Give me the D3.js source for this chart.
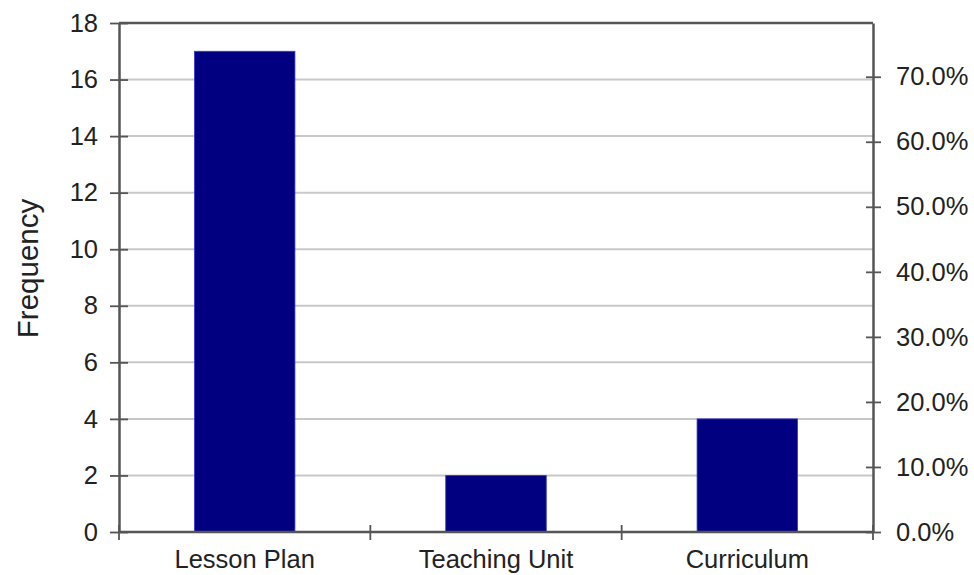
<!DOCTYPE html>
<html>
<head>
<meta charset="utf-8">
<script src="https://cdn.jsdelivr.net/npm/d3@7"></script>
<style>
  html, body { margin: 0; padding: 0; background: #fff; }
  svg { display: block; }
  text { font-family: "Liberation Sans", Arial, sans-serif; fill: #222; }
</style>
</head>
<body>
<svg id="chart" width="974" height="575"></svg>
<script>
const categories = ["Lesson Plan", "Teaching Unit", "Curriculum"];
const frequency = [17, 2, 4];
const leftTicks = [0, 2, 4, 6, 8, 10, 12, 14, 16, 18];
const rightTicks = [0, 0.1, 0.2, 0.3, 0.4, 0.5, 0.6, 0.7];
const yLabel = "Frequency";

const total = d3.sum(frequency);
const svg = d3.select("#chart");
const m = { left: 119, right: 873, top: 23, bottom: 532 };

const x = d3.scaleBand().domain(categories).range([m.left, m.right]).paddingInner(0.6).paddingOuter(0.3);
const y = d3.scaleLinear().domain([0, 18]).range([m.bottom, m.top]);
const y2 = d3.scaleLinear().domain([0, 18 / total]).range([m.bottom, m.top]);

const axisColor = "#555";
const fs = "25.5px";

// gridlines
svg.append("g").selectAll("line").data(leftTicks.filter(d => d > 0 && d < 18)).join("line")
  .attr("x1", m.left).attr("x2", m.right)
  .attr("y1", d => y(d)).attr("y2", d => y(d))
  .attr("stroke", "#c8c8c8").attr("stroke-width", 2);

// top frame
svg.append("line").attr("x1", m.left).attr("x2", m.right).attr("y1", m.top).attr("y2", m.top)
  .attr("stroke", axisColor).attr("stroke-width", 2.5);

// bars
svg.append("g").selectAll("rect").data(categories).join("rect")
  .attr("x", d => x(d))
  .attr("width", x.bandwidth())
  .attr("y", (d, i) => y(frequency[i]))
  .attr("height", (d, i) => y(0) - y(frequency[i]))
  .attr("fill", "#000080")
  .attr("stroke", "#3a3ad0").attr("stroke-width", 0.8);

function styleAxis(g) {
  g.select(".domain").attr("stroke", axisColor).attr("stroke-width", 2.5);
  g.selectAll(".tick line").attr("stroke", axisColor).attr("stroke-width", 1.8);
  g.selectAll(".tick text").attr("fill", "#222").style("font-size", fs)
    .style("font-family", '"Liberation Sans", Arial, sans-serif');
}

// left axis
const gl = svg.append("g").attr("transform", `translate(${m.left},0)`)
  .call(d3.axisLeft(y).tickValues(leftTicks).tickSizeInner(9).tickSizeOuter(0).tickPadding(12));
styleAxis(gl);
gl.selectAll(".tick line").attr("x2", -9).attr("x1", 9);
gl.selectAll(".tick text").attr("x", -21);

// right axis
const gr = svg.append("g").attr("transform", `translate(${m.right},0)`)
  .call(d3.axisRight(y2).tickValues(rightTicks).tickFormat(d3.format(".1%")).tickSizeInner(8).tickSizeOuter(0));
styleAxis(gr);
gr.selectAll(".tick line").attr("x1", -7).attr("x2", 8);
gr.selectAll(".tick text").attr("x", 23);

// bottom axis
const boundaries = [0, 1, 2, 3].map(i => m.left + i * (m.right - m.left) / 3);
const gb = svg.append("g").attr("transform", `translate(0,${m.bottom})`);
gb.append("line").attr("x1", m.left).attr("x2", m.right).attr("stroke", axisColor).attr("stroke-width", 2.5);
gb.selectAll("line.tk").data(boundaries).join("line").attr("class", "tk")
  .attr("x1", d => d).attr("x2", d => d).attr("y1", -7).attr("y2", 8)
  .attr("stroke", axisColor).attr("stroke-width", 1.8);
gb.selectAll("text").data(categories).join("text")
  .attr("x", d => x(d) + x.bandwidth() / 2)
  .attr("y", 36)
  .attr("text-anchor", "middle")
  .style("font-size", fs)
  .text(d => d);

// y label
svg.append("text")
  .attr("transform", `translate(38,${(m.top + m.bottom) / 2 - 9}) rotate(-90)`)
  .attr("text-anchor", "middle")
  .style("font-size", "29.5px")
  .text(yLabel);
</script>
</body>
</html>
